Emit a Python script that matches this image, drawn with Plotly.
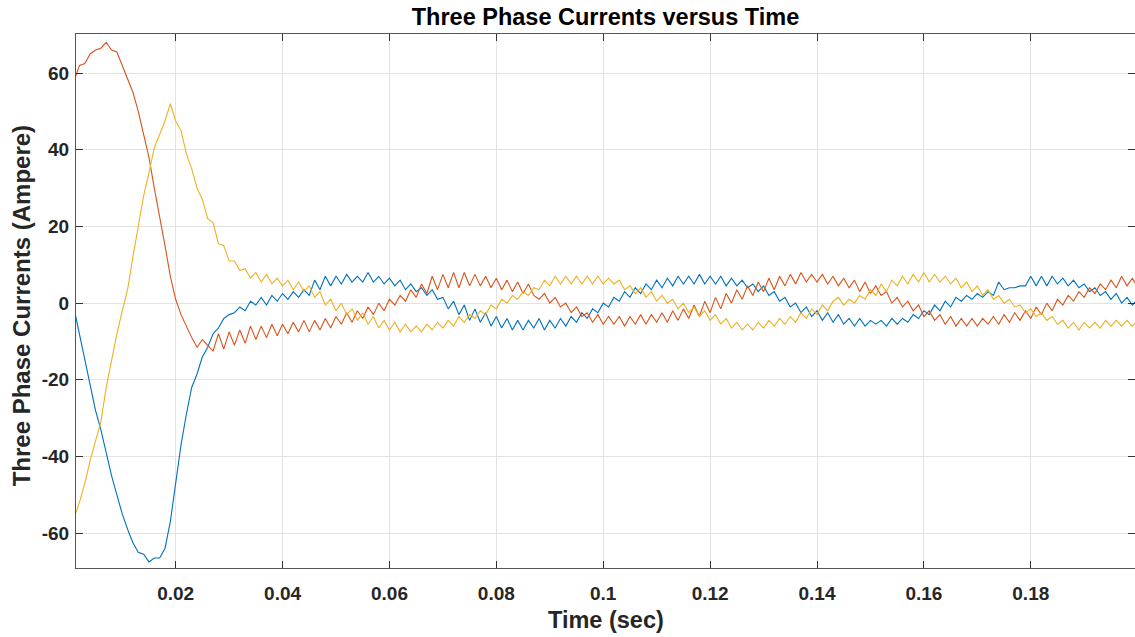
import numpy as np
import plotly.graph_objects as go

# time samples (s): 1 ms steps
time_s = np.round(np.arange(1, 201) * 0.001, 4)

phase_a = [
    -1.5, -8, -15, -21.5, -28, -33, -39, -45, -50, -55,
    -59, -62.5, -65, -65.5, -67.5, -66.5, -66.5, -64, -57, -47,
    -37, -29, -22, -18.5, -14, -11.5, -8, -6.5, -4, -3,
    -2.5, -1, -2, 0.5, -0.5, 1.5, -0.5, 2, 0.5, 2.5,
    1, 3, 1.5, 3.5, 2, 6, 3.5, 7, 4.5, 7,
    5, 7.5, 5.5, 7, 5.5, 8, 5.5, 7, 5, 6.5,
    4.5, 6, 3.5, 5, 3, 4, 2, 3.5, 1, 1.5,
    -1.5, 0.5, -3, -0.5, -4.5, -1.5, -5, -2.5, -6, -3.5,
    -6.5, -4, -7, -4.5, -7, -4.5, -6.5, -4, -7, -4.5,
    -6.5, -4, -6, -3.5, -5, -2.5, -4, -1.5, -2.5, 0,
    -1, 1.5, 0.5, 3, 1.5, 4, 2.5, 5, 3.5, 6,
    4, 6.5, 4.5, 7, 5, 7, 5, 7.5, 5, 7,
    5, 7, 4.5, 6.5, 4.5, 6, 4, 5, 3, 4.5,
    2, 3, 0.5, 1.5, -1, 0, -2.5, -1, -3.5, -2,
    -4.5, -2.5, -5, -3, -5.5, -4, -6, -4, -6, -4.5,
    -5.5, -4.5, -6, -4, -5.5, -4, -5, -3, -4, -2,
    -3, -0.5, -2, 0.5, -1, 1.5, 0.5, 2, 1, 2.5,
    1.5, 3, 2, 5.5, 3.5, 4, 4, 4.5, 4.5, 7,
    4.5, 7, 4.5, 7, 5, 6.5, 4.5, 6, 4, 5,
    3, 4, 2, 3, 1, 2.5, 0, 1.5, -0.5, 1,
]

phase_b = [
    58, 62, 62.5, 65, 66, 66.5, 68, 66, 65.5, 62,
    59, 55, 50, 44, 38, 30, 23, 15, 7, 1,
    -3, -6, -9, -11.5, -9.5, -11, -12.5, -8, -12, -7.5,
    -11, -7, -10.5, -6, -9.5, -6, -9, -5.5, -8.5, -5.5,
    -8, -5, -7.5, -4.5, -7.5, -4.5, -7, -4, -6.5, -3.5,
    -5.5, -2.5, -5, -2, -4, -1, -3, 0, -2, 1,
    -0.5, 2, 0.5, 3.5, 1.5, 5, 2.5, 7, 3.5, 7.5,
    4, 8, 4, 8, 4.5, 7.5, 4.5, 7, 4, 6.5,
    3.5, 6, 3, 5.5, 2.5, 5, 2, 1, 2.5, 0,
    1.5, -1, 0, -2.5, -1, -3.5, -2.5, -5, -3, -5.5,
    -3.5, -5.5, -3.5, -6, -3.5, -5.5, -3, -5.5, -3, -5,
    -2.5, -5, -2, -4.5, -1.5, -4, -0.5, -3.5, 0.5, -2.5,
    1.5, -1.5, 2.5, 0, 3.5, 1, 4.5, 2, 5.5, 3,
    6.5, 3.5, 7, 4.5, 7.5, 5, 8, 5.5, 7.5, 5.5,
    7.5, 5, 7, 4.5, 6.5, 4, 6, 3, 5.5, 2.5,
    4.5, 2, 3, 0, 1.5, -1, 0.5, -2, -0.5, -3.5,
    -2, -4.5, -3, -5.5, -3.5, -6, -4, -6, -4, -6,
    -4, -5.5, -3.5, -5.5, -3, -5, -2.5, -4.5, -2, -4,
    -1, -3, 0, -2, 1, -0.5, 2, 0.5, 3, 1.5,
    4, 2.5, 5, 3.5, 6, 4, 7, 4.5, 6.5, 4,
]

phase_c = [
    -56, -52, -47, -41, -36, -31, -22, -14.5, -8, -2,
    3.5, 12, 20, 28, 34, 40.5, 44, 47.5, 52, 47.5,
    45, 39, 35, 30, 27, 22, 21, 15.5, 15, 11,
    11, 8.5, 9, 6.5, 8, 5.5, 7.5, 5, 6.5, 4.5,
    6, 3.5, 5.5, 3, 4.5, 1.5, 3, -0.5, 1, -2,
    0, -3, -1.5, -4.5, -2.5, -5.5, -3.5, -6.5, -4.5, -7,
    -5, -7.5, -5.5, -7.5, -6, -7.5, -5.5, -7, -5, -6.5,
    -4.5, -6, -3.5, -5, -3, -4, -2, -3, -0.5, -1.5,
    1, 0, 2, 1, 3, 2, 4, 3.5, 6, 4.5,
    7, 5, 7, 5, 7, 5, 7, 5, 7, 5,
    6.5, 5, 6, 3.5, 4.5, 2.5, 4, 1.5, 3, 0.5,
    2, 0, 1, -1.5, 0, -2.5, -1, -3.5, -2, -4.5,
    -3, -5.5, -4, -6.5, -5, -7, -5.5, -7, -5, -6.5,
    -4.5, -6, -4, -5.5, -3.5, -5, -2.5, -4, -1.5, -3,
    -0.5, -2, 0.5, 1.5, -0.5, 1, 0, 2, 1, 3.5,
    2, 5, 3, 6, 4.5, 7, 5, 7.5, 5.5, 8,
    5.5, 7.5, 5.5, 7, 5, 6.5, 4, 5.5, 3, 4.5,
    2, 3.5, 1, 2, 0, 1, -1, -0.5, -2.5, -1.5,
    -3.5, -2.5, -4.5, -3.5, -5.5, -4.5, -6.5, -5, -7, -5,
    -6.5, -5, -6.5, -4.5, -6, -4.5, -6, -4.5, -6, -4.5,
]

x_ticks = [0.02, 0.04, 0.06, 0.08, 0.1, 0.12, 0.14, 0.16, 0.18]
x_tick_text = ["0.02", "0.04", "0.06", "0.08", "0.1", "0.12", "0.14", "0.16", "0.18"]
y_ticks = [-60, -40, -20, 0, 20, 40, 60]
y_tick_text = ["-60", "-40", "-20", "0", "20", "40", "60"]

colors = ["#0072BD", "#D95319", "#EDB120"]
FONT = "Liberation Sans, Arial, Helvetica, sans-serif"

fig = go.Figure()
for ys, c in zip([phase_a, phase_b, phase_c], colors):
    fig.add_trace(go.Scatter(x=time_s, y=ys, mode="lines",
                             line=dict(color=c, width=1.1), showlegend=False))

axis_common = dict(
    showgrid=True, gridcolor="#e3e3e3", gridwidth=1,
    showline=True, linecolor="#555555", linewidth=1, mirror="ticks",
    ticks="inside", ticklen=7, tickcolor="#333333", tickwidth=1,
    zeroline=False,
    tickfont=dict(family=FONT, size=19, color="#262626", weight="bold"),
)

fig.update_layout(
    width=1135, height=637,
    margin=dict(l=76, r=0, t=34, b=69),
    paper_bgcolor="white", plot_bgcolor="white",
    title=dict(text="Three Phase Currents versus Time",
               font=dict(family=FONT, size=23.5, color="#000000", weight="bold"),
               x=0.5, xref="paper", xanchor="center",
               y=1 - 17 / 637, yref="container", yanchor="middle"),
    xaxis=dict(range=[0.00135, 0.1995], tickvals=x_ticks, ticktext=x_tick_text,
               ticklabelstandoff=8, **axis_common),
    yaxis=dict(range=[-69.1, 70.2], tickvals=y_ticks, ticktext=y_tick_text,
               ticklabelstandoff=2, **axis_common),
    annotations=[
        dict(text="Time (sec)", x=0.5, y=-52 / 534, xref="paper", yref="paper",
             xanchor="center", yanchor="middle", showarrow=False,
             font=dict(family=FONT, size=23.5, color="#262626", weight="bold")),
        dict(text="Three Phase Currents (Ampere)", x=-55 / 1059, y=0.49,
             xref="paper", yref="paper", xanchor="center", yanchor="middle",
             textangle=-90, showarrow=False,
             font=dict(family=FONT, size=24, color="#262626", weight="bold")),
    ],
)

fig.write_html("out.html")
